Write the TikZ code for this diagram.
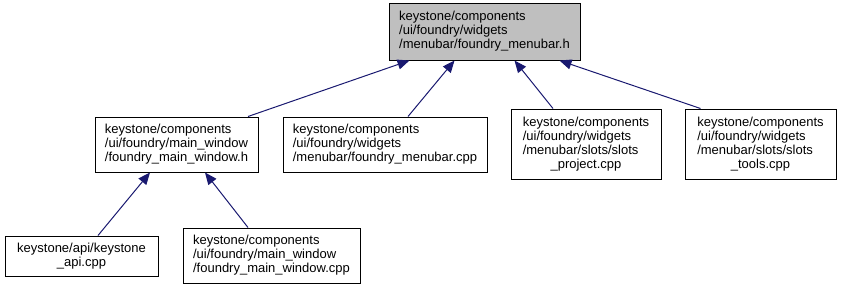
\documentclass[tikz,border=0pt]{standalone}
\usepackage{fontspec}
\setmainfont{Liberation Sans}
\usetikzlibrary{arrows.meta}
\definecolor{edgeblue}{RGB}{25,25,112}
\definecolor{hdrgray}{RGB}{191,191,191}
\begin{document}
\begin{tikzpicture}[
          x=1pt, y=-1pt,
          file/.style={
            draw, line width=1pt, fill=white, align=left,
            font=\fontsize{13}{14}\selectfont, inner sep=0pt, anchor=center
          },
          focus/.style={file, fill=hdrgray},
          edge/.style={-{Triangle[length=12pt,width=10pt]}, line width=1pt, edgeblue},
        ]
          \useasboundingbox (0,0) rectangle (841,289);

          % --- Header in focus ---
          \node[focus, minimum width=191pt, minimum height=57pt] (menubarh) at (484.5, 31.5)
            {keystone/components\\/ui/foundry/widgets\\/menubar/foundry\_menubar.h};

          % --- Files including it ---
          \node[file, minimum width=163pt, minimum height=55pt] (mainwinh) at (176.5, 144.5)
            {keystone/components\\/ui/foundry/main\_window\\/foundry\_main\_window.h};
          \node[file, minimum width=204pt, minimum height=55pt] (menubarcpp) at (385, 144.5)
            {keystone/components\\/ui/foundry/widgets\\/menubar/foundry\_menubar.cpp};
          \node[file, minimum width=150pt, minimum height=70pt] (slotsproj) at (586, 144)
            {keystone/components\\/ui/foundry/widgets\\/menubar/slots/slots\\\hspace*{\fill}\_project.cpp\hspace*{\fill}};
          \node[file, minimum width=151pt, minimum height=70pt] (slotstools) at (760.5, 144)
            {keystone/components\\/ui/foundry/widgets\\/menubar/slots/slots\\\hspace*{\fill}\_tools.cpp\hspace*{\fill}};

          % --- Files including the main window header ---
          \node[file, minimum width=153pt, minimum height=40pt] (kapi) at (81.5, 256)
            {keystone/api/keystone\\\hspace*{\fill}\_api.cpp\hspace*{\fill}};
          \node[file, minimum width=177pt, minimum height=55pt] (mainwincpp) at (271.5, 255.5)
            {keystone/components\\/ui/foundry/main\_window\\/foundry\_main\_window.cpp};

          % Include edges
          \draw[edge] ([xshift=71.5pt]mainwinh.north) -- ([xshift=-75pt]menubarh.south);
          \draw[edge] ([xshift=23pt]menubarcpp.north) -- ([xshift=-30pt]menubarh.south);
          \draw[edge] ([xshift=-33pt]slotsproj.north) -- ([xshift=30pt]menubarh.south);
          \draw[edge] ([xshift=-60pt]slotstools.north) -- ([xshift=75pt]menubarh.south);
          \draw[edge] ([xshift=16.5pt]kapi.north) -- ([xshift=-26.5pt]mainwinh.south);
          \draw[edge] ([xshift=-23.5pt]mainwincpp.north) -- ([xshift=28.5pt]mainwinh.south);
        \end{tikzpicture}
\end{document}
